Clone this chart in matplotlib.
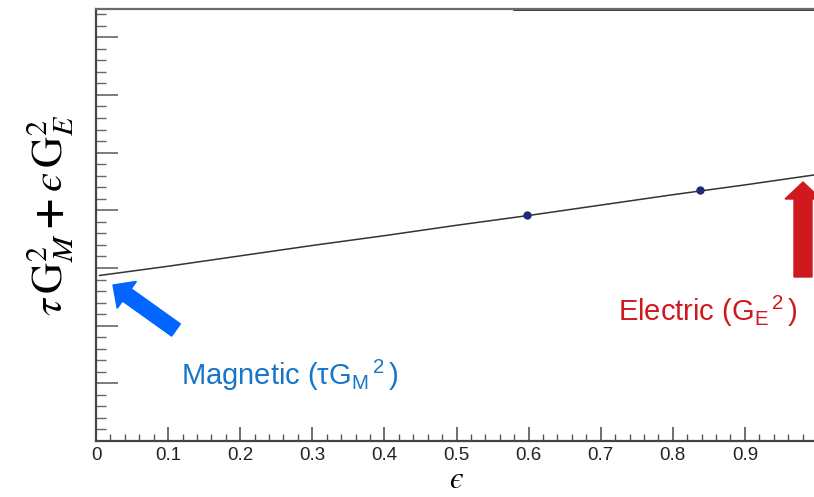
import matplotlib
matplotlib.use("Agg")
import matplotlib.pyplot as plt
import matplotlib.patches as mpatches
import matplotlib.transforms as mtransforms
from matplotlib.ticker import MultipleLocator, NullFormatter

# values (arbitrary units on y)
eps = [0.005, 0.1, 0.2, 0.3, 0.4, 0.5, 0.6, 0.7, 0.8, 0.9, 1.0]
reduced_xs = [2.87, 3.03, 3.21, 3.39, 3.56, 3.74, 3.91, 4.09, 4.27, 4.44, 4.62]
meas_eps = [0.598, 0.838]
meas_xs = [3.92, 4.35]
xtick_vals = [0, 0.1, 0.2, 0.3, 0.4, 0.5, 0.6, 0.7, 0.8, 0.9]
xtick_labels = ["0", "0.1", "0.2", "0.3", "0.4", "0.5", "0.6", "0.7", "0.8", "0.9"]

plt.rcParams['font.family'] = ['Liberation Sans', 'DejaVu Sans']
plt.rcParams['mathtext.fontset'] = 'custom'
plt.rcParams['mathtext.rm'] = 'Liberation Sans'
plt.rcParams['mathtext.it'] = 'Liberation Sans'
plt.rcParams['mathtext.sf'] = 'Liberation Sans'

W, H = 814, 497
fig = plt.figure(figsize=(W / 100, H / 100), dpi=100)
ax = fig.add_axes([96 / W, (H - 441) / H, 721 / W, 432 / H])

ax.plot(eps, reduced_xs, color='#333333', lw=1.1)
ax.plot(meas_eps, meas_xs, 'o', color='#1f2a78', ms=5, mec='#1f2a78')

ax.set_xlim(0, 1.0)
ax.set_ylim(0, 7.49)

# ROOT-like frame
for s in ['left', 'bottom']:
    ax.spines[s].set_color('#444444')
    ax.spines[s].set_linewidth(1.6)
ax.spines['top'].set_color('#6a6a6a')
ax.spines['top'].set_linewidth(1.6)
ax.spines['right'].set_visible(False)
ax.axhline(7.49, xmin=0.58, xmax=1.0, color='black', lw=1.8, clip_on=False)

ax.set_xticks(xtick_vals)
ax.set_xticklabels(xtick_labels)
ax.xaxis.set_minor_locator(MultipleLocator(0.02))
ax.yaxis.set_major_locator(MultipleLocator(1))
ax.yaxis.set_minor_locator(MultipleLocator(0.2))
ax.yaxis.set_major_formatter(NullFormatter())
ax.tick_params(axis='x', which='major', direction='in', length=10, width=1.2,
               color='#555555', labelsize=13.5, labelcolor='#222222', pad=4)
ax.tick_params(axis='x', which='minor', direction='in', length=5, width=1.0, color='#555555')
ax.tick_params(axis='y', which='major', direction='in', length=16, width=1.2, color='#666666')
ax.tick_params(axis='y', which='minor', direction='in', length=7.5, width=1.0, color='#666666')
ax.tick_params(top=False, right=False, which='both')

# axis titles
fig.text(456 / W, 1 - 480 / H, '$\u03f5$', fontsize=22, ha='center', va='center',
         math_fontfamily='stix')
fig.text(50 / W, 1 - 215 / H,
         '$\\tau\\, \\mathrm{G}_{M}^{2}\\,\\mathbf{+}\\,\u03f5\\, \\mathrm{G}_{E}^{2}$',
         fontsize=31, rotation=90, ha='center', va='center', math_fontfamily='stix')

# annotations
fig.text(181 / W, 1 - 385 / H, r'Magnetic ($\tau$G$_{\mathrm{M}}$$^{\,2}$$\,$)', fontsize=21,
         color='#1776c8', ha='left', va='baseline')
fig.text(618 / W, 1 - 321 / H, r'Electric (G$_{\mathrm{E}}$$^{\,2}$$\,$)', fontsize=21,
         color='#d0191f', ha='left', va='baseline')

ident = mtransforms.IdentityTransform()
blue_arrow = mpatches.FancyArrow(176, H - 330, -63, 45, width=15, head_width=33,
                                 head_length=17, length_includes_head=True,
                                 color='#0066ff', transform=ident)
red_arrow = mpatches.FancyArrow(803, H - 277, 0, 95, width=18, head_width=36,
                                head_length=17, length_includes_head=True,
                                color='#d0191f', transform=ident)
fig.add_artist(blue_arrow)
fig.add_artist(red_arrow)

fig.savefig('out.png', dpi=100)
